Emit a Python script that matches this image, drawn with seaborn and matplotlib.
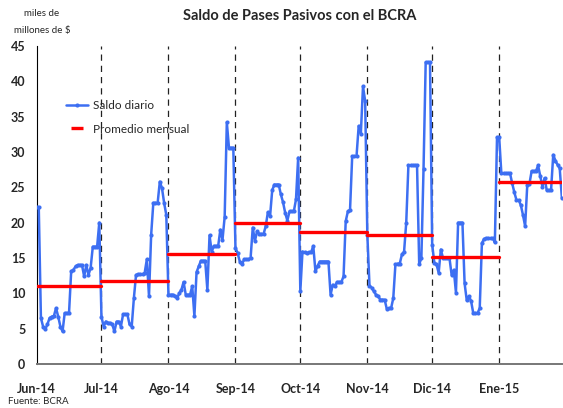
import pandas as pd
import numpy as np
import seaborn as sns
import matplotlib.pyplot as plt
from matplotlib.lines import Line2D

# saldo diario (miles de millones de $), un valor por dia calendario
jun = [22.2, 22.2, 6.5, 5.3, 4.9, 5.6, 6.5, 6.7, 6.8, 7.9,
       6.7, 5.3, 4.6, 7.2, 7.2, 7.2, 13.1, 13.3, 13.8, 14.0,
       14.0, 14.0, 12.4, 14.0, 12.6, 13.6, 16.6, 16.6, 16.6, 20.0]
jul = [6.7, 5.3, 6.0, 5.8, 5.8, 5.6, 4.6, 6.0, 6.0, 5.3,
       7.0, 7.0, 7.0, 5.6, 5.3, 9.3, 12.6, 12.7, 12.7, 12.7,
       12.9, 14.8, 9.6, 18.3, 22.8, 22.8, 22.8, 25.8, 24.9, 22.8, 21.1]
ago = [9.8, 9.8, 9.8, 9.6, 9.3, 10.0, 10.5, 11.6, 9.8, 9.8,
       9.8, 11.0, 6.8, 13.0, 13.8, 14.6, 14.6, 14.6, 10.5, 18.2,
       15.9, 16.7, 16.7, 16.7, 19.0, 17.6, 20.8, 34.2, 30.6, 30.6, 30.6]
sep = [16.4, 15.7, 14.5, 14.1, 14.8, 14.8, 14.8, 15.0, 19.3, 17.4,
       18.8, 18.4, 18.4, 18.4, 19.5, 21.5, 20.9, 24.6, 25.4, 25.4,
       25.4, 24.0, 22.9, 21.4, 20.3, 21.6, 21.6, 21.6, 23.3, 29.2]
oct_ = [10.3, 15.9, 15.8, 15.7, 15.8, 15.8, 16.7, 13.1, 13.9, 14.5,
        14.5, 14.5, 14.5, 14.5, 9.8, 11.2, 11.0, 11.6, 11.6, 11.6,
        12.4, 20.2, 21.6, 21.8, 29.4, 29.4, 29.4, 33.7, 32.6, 39.3, 37.2]
nov = [18.3, 11.1, 10.8, 10.3, 9.8, 9.6, 9.1, 9.1, 9.1, 7.8,
       7.9, 7.9, 9.3, 14.1, 14.2, 14.2, 15.5, 15.9, 20.0, 28.1,
       28.1, 28.1, 28.1, 28.1, 14.1, 15.0, 27.6, 42.7, 42.7, 42.7]
dic = [16.9, 14.3, 14.1, 12.9, 16.2, 15.0, 15.0, 15.0, 15.0, 12.6,
       13.3, 10.1, 20.0, 20.0, 20.0, 11.4, 9.0, 9.6, 8.9, 7.2,
       7.2, 7.2, 7.9, 17.1, 17.7, 17.8, 17.8, 17.8, 17.8, 17.2, 32.1]
ene = [32.1, 27.0, 27.0, 27.0, 27.0, 27.0, 25.6, 24.3, 23.2, 23.2,
       22.5, 21.1, 19.5, 25.4, 25.5, 27.3, 27.3, 27.3, 28.1, 26.6,
       25.1, 26.3, 24.6, 24.6, 24.6, 29.6, 28.8, 28.2, 27.7, 23.5]

month_labels = ["Jun-14", "Jul-14", "Ago-14", "Sep-14", "Oct-14", "Nov-14", "Dic-14", "Ene-15"]
month_avg = [11.0, 11.8, 15.5, 20.0, 18.7, 18.2, 15.1, 25.8]

saldo = jun + jul + ago + sep + oct_ + nov + dic + ene
dates = pd.date_range("2014-06-01", periods=len(saldo), freq="D")
df = pd.DataFrame({"fecha": dates, "saldo": saldo})

month_starts = pd.date_range("2014-06-01", periods=len(month_labels) + 1, freq="MS")
rows = []
for i, v in enumerate(month_avg):
    rows.append({"mes": i, "fecha": month_starts[i], "prom": v})
    rows.append({"mes": i, "fecha": month_starts[i + 1], "prom": v})
avg = pd.DataFrame(rows)

sns.set_style("white")
plt.rcParams['font.family'] = ['Lato', 'DejaVu Sans']

blue = '#3d6ff2'

fig = plt.figure(figsize=(5.63, 4.08), dpi=100)
ax = fig.add_axes([0.065, 0.108, 0.933, 0.779])

for d in month_starts[1:8]:
    ax.axvline(d, color='#222222', ls=(0, (5, 4)), lw=0.9, zorder=1)

sns.lineplot(data=df, x="fecha", y="saldo", color=blue, lw=1.8,
             marker='o', markersize=3, markeredgewidth=0, ax=ax, zorder=3)
sns.lineplot(data=avg, x="fecha", y="prom", units="mes", estimator=None,
             color='red', lw=2.4, ax=ax, zorder=4)

ax.set_xlim(pd.Timestamp("2014-06-01"), pd.Timestamp("2015-01-30"))
ax.set_ylim(0, 45)
ax.set_yticks(np.arange(0, 46, 5))
ax.set_yticklabels([str(v) for v in range(0, 46, 5)], fontweight='bold', fontsize=9)
ax.set_xticks(month_starts[:8])
ax.set_xticklabels(month_labels, fontweight='bold', fontsize=9)
ax.tick_params(axis='both', direction='in', length=4, color='black')
ax.tick_params(axis='x', pad=14)
ax.tick_params(axis='y', pad=8)
ax.set_xlabel("")
ax.set_ylabel("")

for s in ['top', 'right']:
    ax.spines[s].set_visible(False)
ax.spines['left'].set_color('black')
ax.spines['bottom'].set_color('#777777')
ax.spines['bottom'].set_linewidth(1.4)

handles = [Line2D([0], [0], color=blue, lw=1.8, marker='o', markersize=3, markeredgewidth=0),
           Line2D([0], [0], color='red', ls='none', marker='_', markersize=9, markeredgewidth=2.4)]
ax.legend(handles, ["Saldo diario", "Promedio mensual"], loc='upper left',
          bbox_to_anchor=(0.035, 0.865), frameon=False, fontsize=8.5,
          labelspacing=1.1, handlelength=1.9, handletextpad=0.4)

fig.text(0.532, 1 - 16 / 408, "Saldo de Pases Pasivos con el BCRA",
         ha='center', va='center', fontsize=10.5, fontweight='bold')
fig.text(42 / 563, 1 - 14 / 408, "miles de", ha='center', va='center', fontsize=7)
fig.text(42 / 563, 1 - 30 / 408, "millones de $", ha='center', va='center', fontsize=7)
fig.text(8 / 563, 1 - 401 / 408, "Fuente: BCRA", ha='left', va='center', fontsize=7)

fig.savefig("out.png", dpi=100)
